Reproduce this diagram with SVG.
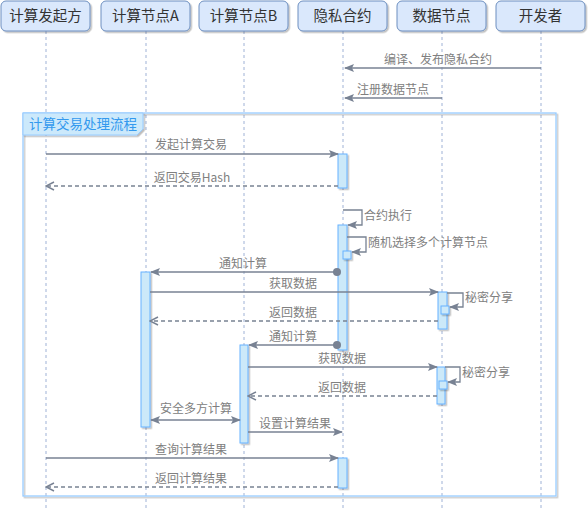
<svg xmlns="http://www.w3.org/2000/svg" width="588" height="514" viewBox="0 0 588 514">
<style>
.hdr{fill:#dae8fc;stroke:#6c8ebf;stroke-width:1;filter:url(#sh)}
.ht{font-family:"Noto Sans CJK SC","Liberation Sans",sans-serif;font-size:14.5px;fill:#333;text-anchor:middle}
.life{stroke:#9fb2d6;stroke-width:1;stroke-dasharray:3 3;fill:none}
.act{fill:#cce9f9;stroke:#66b2ff;stroke-width:1;filter:url(#sh)}
.msg{stroke:#788293;stroke-width:1.3;fill:none}
.ret{stroke:#788293;stroke-width:1.3;fill:none;stroke-dasharray:4 3}
.lbl{font-family:"Noto Sans CJK SC","Liberation Sans",sans-serif;font-size:12px;fill:#808080;text-anchor:middle}
.lbs{font-family:"Noto Sans CJK SC","Liberation Sans",sans-serif;font-size:12px;fill:#808080;text-anchor:start}
</style>
<defs>
<filter id="sh" x="-20%" y="-20%" width="150%" height="150%">
<feDropShadow dx="1.5" dy="1.5" stdDeviation="0.6" flood-color="#000" flood-opacity="0.25"/>
</filter>
<marker id="blk" viewBox="0 0 10 10" refX="9" refY="5" markerWidth="10" markerHeight="10" markerUnits="userSpaceOnUse" orient="auto-start-reverse">
<path d="M0,1 L10,5 L0,9 L2,5 Z" fill="#788293"/>
</marker>
<marker id="opn" viewBox="0 0 10 10" refX="9" refY="5" markerWidth="10" markerHeight="10" markerUnits="userSpaceOnUse" orient="auto">
<path d="M1,1 L9,5 L1,9" fill="none" stroke="#788293" stroke-width="1.5"/>
</marker>
<marker id="dot" viewBox="0 0 10 10" refX="5" refY="5" markerWidth="8" markerHeight="8" markerUnits="userSpaceOnUse">
<circle cx="5" cy="5" r="5" fill="#788293"/>
</marker>
</defs>
<rect width="588" height="514" fill="#fff"/>

<g id="lifelines">
<line class="life" x1="46" y1="31" x2="46" y2="510"/>
<line class="life" x1="146" y1="31" x2="146" y2="510"/>
<line class="life" x1="244" y1="31" x2="244" y2="510"/>
<line class="life" x1="343" y1="31" x2="343" y2="510"/>
<line class="life" x1="442" y1="31" x2="442" y2="510"/>
<line class="life" x1="541" y1="31" x2="541" y2="510"/>
</g>

<g id="frame">
<rect x="23" y="113" width="533" height="383" fill="none" stroke="#99ccff" stroke-width="1.3" filter="url(#sh)"/>
<path d="M23,113 H143 V129 L137,135 H23 Z" fill="#cce9fb" stroke="#99ccff" stroke-width="1" filter="url(#sh)"/>
<text x="29" y="129" font-family="'Noto Sans CJK SC','Liberation Sans',sans-serif" font-size="13.5px" fill="#3399ee">计算交易处理流程</text>
</g>

<g id="node-initiator"><rect class="hdr" x="1" y="1" width="89" height="30" rx="5"/><text class="ht" x="45.5" y="21">计算发起方</text></g>
<g id="node-A"><rect class="hdr" x="101" y="1" width="89" height="30" rx="5"/><text class="ht" x="145.5" y="21">计算节点A</text></g>
<g id="node-B"><rect class="hdr" x="199" y="1" width="89" height="30" rx="5"/><text class="ht" x="243.5" y="21">计算节点B</text></g>
<g id="node-contract"><rect class="hdr" x="298" y="1" width="89" height="30" rx="5"/><text class="ht" x="342.5" y="21">隐私合约</text></g>
<g id="node-data"><rect class="hdr" x="397" y="1" width="89" height="30" rx="5"/><text class="ht" x="441.5" y="21">数据节点</text></g>
<g id="node-dev"><rect class="hdr" x="496" y="1" width="89" height="30" rx="5"/><text class="ht" x="540.5" y="21">开发者</text></g>

<g id="activations">
<rect class="act" x="338" y="154" width="9" height="34"/>
<rect class="act" x="338" y="225" width="9" height="125"/>
<rect class="act" x="343" y="251" width="8" height="8"/>
<rect class="act" x="141" y="272" width="9" height="155"/>
<rect class="act" x="438" y="292" width="9" height="37"/>
<rect class="act" x="441" y="306" width="8" height="8"/>
<rect class="act" x="240" y="345" width="8" height="98"/>
<rect class="act" x="437" y="367" width="8" height="37"/>
<rect class="act" x="439" y="381" width="8" height="8"/>
<rect class="act" x="338" y="458" width="9" height="30"/>
</g>

<g id="connectors">
<line class="msg" x1="541" y1="68" x2="345" y2="68" marker-end="url(#blk)"/>
<line class="msg" x1="442" y1="98" x2="345" y2="98" marker-end="url(#blk)"/>
<line class="msg" x1="46" y1="154" x2="338" y2="154" marker-end="url(#blk)"/>
<line class="ret" x1="338" y1="186" x2="46" y2="186" marker-end="url(#opn)"/>
<path class="msg" d="M343,210 H362 V225 H348" marker-end="url(#blk)"/>
<path class="msg" d="M347,237 H366 V252 H352" marker-end="url(#blk)"/>
<line class="msg" x1="337" y1="272" x2="151" y2="272" marker-start="url(#dot)" marker-end="url(#blk)"/>
<line class="msg" x1="150" y1="292" x2="438" y2="292" marker-end="url(#blk)"/>
<path class="msg" d="M447,293 H463 V307 H450" marker-end="url(#blk)"/>
<line class="ret" x1="438" y1="321" x2="150" y2="321" marker-end="url(#opn)"/>
<line class="msg" x1="337" y1="345" x2="249" y2="345" marker-start="url(#dot)" marker-end="url(#blk)"/>
<line class="msg" x1="248" y1="367" x2="437" y2="367" marker-end="url(#blk)"/>
<path class="msg" d="M445,367 H460 V382 H448" marker-end="url(#blk)"/>
<line class="ret" x1="437" y1="396" x2="248" y2="396" marker-end="url(#opn)"/>
<line class="msg" x1="151" y1="420" x2="240" y2="420" marker-start="url(#blk)" marker-end="url(#blk)"/>
<line class="msg" x1="248" y1="432" x2="342" y2="432" marker-end="url(#blk)"/>
<line class="msg" x1="46" y1="458" x2="338" y2="458" marker-end="url(#blk)"/>
<line class="ret" x1="338" y1="487" x2="46" y2="487" marker-end="url(#opn)"/>
</g>

<g id="labels">
<text class="lbl" x="438" y="64">编译、发布隐私合约</text>
<text class="lbl" x="393" y="94">注册数据节点</text>
<text class="lbl" x="191" y="149">发起计算交易</text>
<text class="lbl" x="192" y="182">返回交易Hash</text>
<text class="lbs" x="364" y="220">合约执行</text>
<text class="lbs" x="368" y="247">随机选择多个计算节点</text>
<text class="lbl" x="243" y="268">通知计算</text>
<text class="lbl" x="293" y="288">获取数据</text>
<text class="lbs" x="465" y="302">秘密分享</text>
<text class="lbl" x="293" y="317">返回数据</text>
<text class="lbl" x="293" y="341">通知计算</text>
<text class="lbl" x="342" y="363">获取数据</text>
<text class="lbs" x="462" y="377">秘密分享</text>
<text class="lbl" x="342" y="392">返回数据</text>
<text class="lbl" x="196" y="413">安全多方计算</text>
<text class="lbl" x="295" y="428">设置计算结果</text>
<text class="lbl" x="191" y="454">查询计算结果</text>
<text class="lbl" x="191" y="483">返回计算结果</text>
</g>
</svg>
